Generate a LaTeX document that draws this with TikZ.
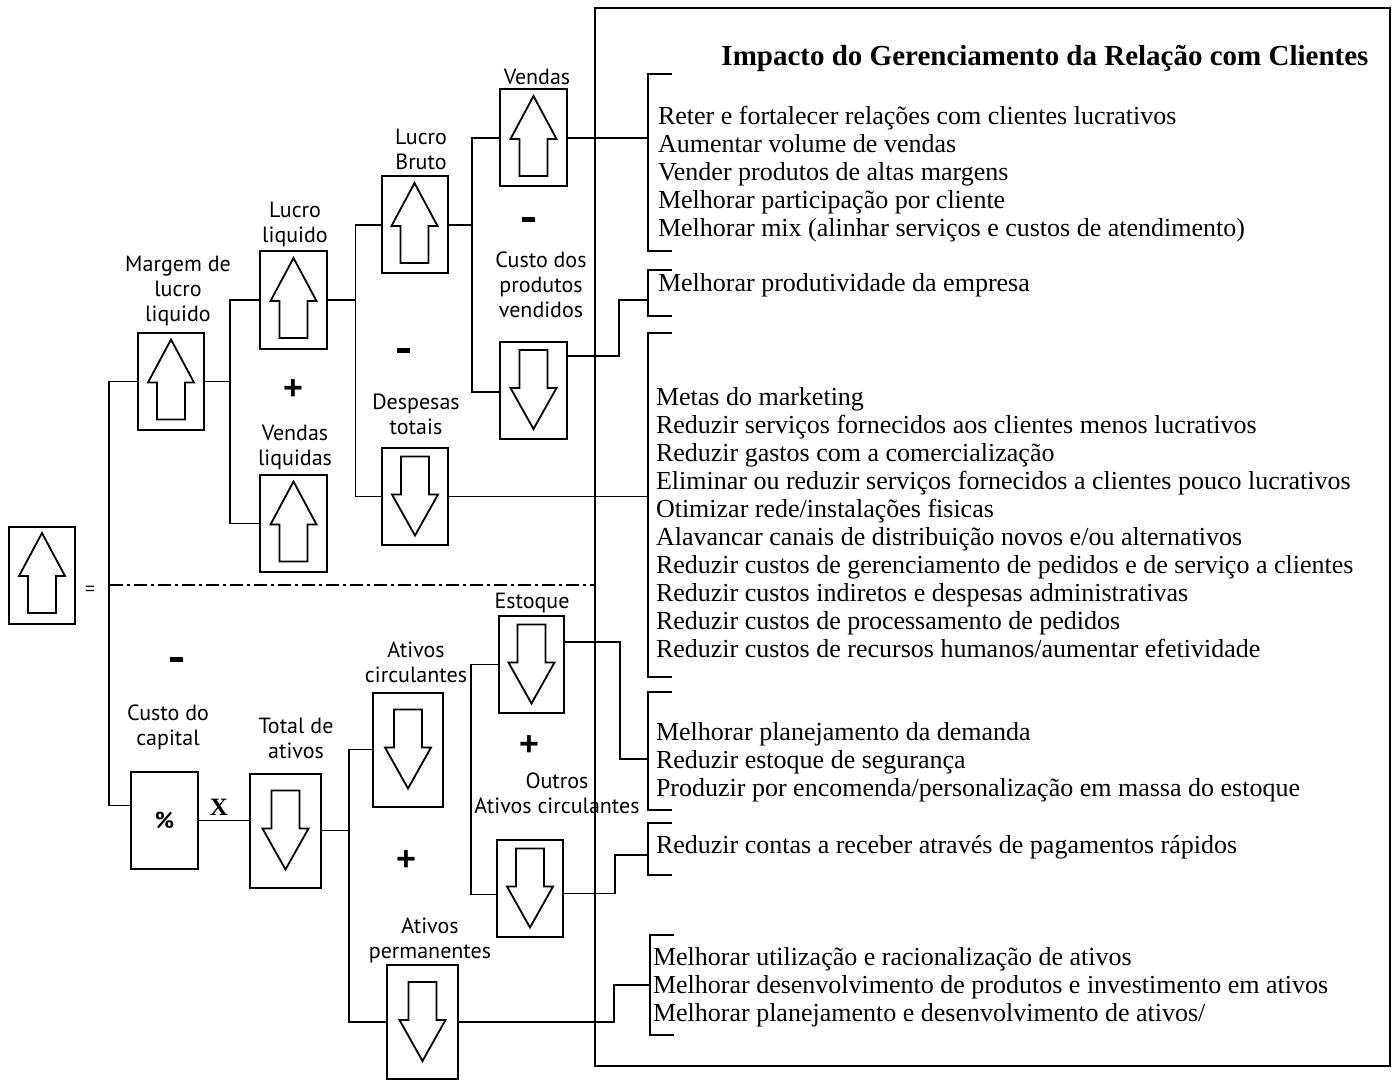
\documentclass[tikz,border=0pt]{standalone}
\usepackage{fontspec}
\setmainfont{Liberation Serif}
\newfontfamily\labelfont{PT Sans}
\newfontfamily\opfont{Liberation Sans}
\usetikzlibrary{calc}

\begin{document}
\begin{tikzpicture}[x=1pt,y=-1pt,
  every node/.style={inner sep=0pt, outer sep=0pt},
  line/.style={line width=1.8pt},
  box/.style={draw, line width=2pt, minimum width=66pt, minimum height=97pt},
  tallbox/.style={box, minimum width=71pt, minimum height=114pt},
  uparrow/.style={path picture={
    \draw[line width=1.8pt, line join=miter, shift={(path picture bounding box.center)}]
      (0,-42) -- (23,1) -- (14,1) -- (14,38) -- (-14,38) -- (-14,1) -- (-23,1) -- cycle;}},
  downarrow/.style={path picture={
    \draw[line width=1.8pt, line join=miter, shift={(path picture bounding box.center)}]
      (0,39) -- (23,-2) -- (14,-2) -- (14,-40) -- (-14,-40) -- (-14,-2) -- (-23,-2) -- cycle;}},
  lab/.style={font=\labelfont\fontsize{22}{25}\selectfont, align=center},
  plus/.style={font=\opfont\bfseries\fontsize{34}{34}\selectfont},
  goal/.style={font=\fontsize{26}{28}\selectfont, align=left, anchor=west},
  bracket/.style={line width=1.8pt},
]
\useasboundingbox (0,0) rectangle (1392,1083);
\fill[white] (0,0) rectangle (1392,1083);

% ---------- right panel ----------
\node[draw, line width=2.2pt, minimum width=795pt, minimum height=1058pt] (panel) at (992.5,537) {};
\node[font=\bfseries\fontsize{29}{32}\selectfont] (title) at (1045,58)
  {Impacto do Gerenciamento da Relação com Clientes};

% ---------- boxes ----------
\node[box, uparrow] (result) at (42,575) {};
\node[box, uparrow] (margem) at (171,381.5) {};
\node[box, uparrow, minimum width=67pt] (lucliq) at (293.5,300) {};
\node[box, uparrow, minimum width=67pt] (vendliq) at (293.5,523.5) {};
\node[box, uparrow] (lbruto) at (414.5,225) {};
\node[box, downarrow] (desp) at (415,496.5) {};
\node[box, uparrow, minimum width=67pt] (vendas) at (533.5,138) {};
\node[box, downarrow, minimum width=67pt] (cpv) at (533.5,390) {};
\node[box, minimum width=67pt] (pct) at (164.5,820.5) {};
\node[tallbox, downarrow] (totat) at (285.5,830.5) {};
\node[tallbox, downarrow, minimum width=70pt] (ativc) at (408,749.5) {};
\node[tallbox, downarrow] (ativp) at (422.5,1022) {};
\node[box, downarrow, minimum width=65pt] (estoque) at (531.5,664.5) {};
\node[box, downarrow] (outros) at (530,888.5) {};

% ---------- box labels ----------
\node[lab] (lmargem) at (178,291) {Margem de\\lucro\\liquido};
\node[lab] (llucliq) at (295,224.5) {Lucro\\liquido};
\node[lab] (lvendliq) at (295,447.5) {Vendas\\liquidas};
\node[lab] (llbruto) at (421,149.5) {Lucro\\Bruto};
\node[lab] (ldesp) at (416,414.5) {Despesas\\totais};
\node[lab] (lvendas) at (537,77) {Vendas};
\node[lab] (lcpv) at (541,284.5) {Custo dos\\produtos\\vendidos};
\node[lab] (lcusto) at (168,727.5) {Custo do\\capital};
\node[lab] (ltotat) at (296,738.5) {Total de\\ativos};
\node[lab] (lativc) at (416,662.5) {Ativos\\circulantes};
\node[lab] (lativp) at (430,940) {Ativos\\permanentes};
\node[lab] (lestoque) at (532,603) {Estoque};
\node[lab] (loutros) at (557,793) {Outros\\Ativos circulantes};

% ---------- operators ----------
\node[font=\labelfont\bfseries\fontsize{23}{23}\selectfont] (pcttxt) at (pct) {\%};
\node[font=\bfseries\fontsize{25}{25}\selectfont] (times) at (219,807) {X};
\node[font=\opfont\fontsize{17}{17}\selectfont] (eq) at (90,590) {=};
\node[plus] (plus1) at (293,390) {+};
\node[plus] (plus2) at (406,861) {+};
\node[plus] (plus3) at (529,746) {+};
\node (minus1) at (403,350) {\rule{13pt}{5pt}};
\node (minus2) at (528,220) {\rule{13pt}{5pt}};
\node (minus3) at (176,659) {\rule{13pt}{5pt}};

% ---------- tree connectors ----------
\draw[line] (margem.west) -- ++(-29,0) |- ($(pct.west)+(0,-15)$);
\draw[line] (margem.east) -- ++(27,0);
\draw[line] (lucliq.west) -- ++(-30,0) |- (vendliq.west);
\draw[line] (lucliq.east) -- ++(29,0);
\draw[line] (lbruto.west) -- ++(-26,0) |- (desp.west);
\draw[line] (lbruto.east) -- ++(25,0);
\draw[line] (vendas.west) -- ++(-28,0) |- ($(cpv.west)+(0,2)$);
\draw[line] (pct.east) -- (pct.east -| totat.west);
\draw[line] (totat.east) -- ++(28,0);
\draw[line] (ativc.west) -- ++(-24,0) |- (ativp.west);
\draw[line] (estoque.west) -- ++(-28,0) |- ($(outros.west)+(0,6)$);

% separator between margin and capital branches
\draw[line width=1.6pt, dash pattern=on 13pt off 4pt on 3pt off 4pt] (110,585) -- (panel.west |- 0,585);

% ---------- brackets of goals ----------
\coordinate (b1) at (648,138);
\coordinate (b2) at (648,300);
\coordinate (b3) at (648,496.5);
\coordinate (b4) at (648,759);
\coordinate (b5) at (648,855);
\coordinate (b6) at (650,985);
\draw[bracket] (672,74) -- (648,74) -- (648,251) -- (672,251);
\draw[bracket] (672,270) -- (648,270) -- (648,316) -- (672,316);
\draw[bracket] (672,333) -- (648,333) -- (648,677) -- (672,677);
\draw[bracket] (672,692) -- (648,692) -- (648,810) -- (672,810);
\draw[bracket] (672,823) -- (648,823) -- (648,875) -- (672,875);
\draw[bracket] (674,935) -- (650,935) -- (650,1035) -- (674,1035);

\draw[line] (vendas.east) -- (b1);
\draw[line] ($(cpv.east)+(0,-34)$) -- ++(52,0) |- (b2);
\draw[line] (desp.east) -- (b3);
\draw[line] ($(estoque.east)+(0,-22.5)$) -- ++(56,0) |- (b4);
\draw[line] ($(outros.east)+(0,5)$) -- ++(52,0) |- (b5);
\draw[line] (ativp.east) -- ++(156,0) |- (b6);

% ---------- goals ----------
\node[goal] (g1) at (658,174) {Reter e fortalecer relações com clientes lucrativos\\
Aumentar volume de vendas\\
Vender produtos de altas margens\\
Melhorar participação por cliente\\
Melhorar mix (alinhar serviços e custos de atendimento)};
\node[goal] (g2) at (658,285) {Melhorar produtividade da empresa};
\node[goal] (g3) at (656,523) {Metas do marketing\\
Reduzir serviços fornecidos aos clientes menos lucrativos\\
Reduzir gastos com a comercialização\\
Eliminar ou reduzir serviços fornecidos a clientes pouco lucrativos\\
Otimizar rede/instalações fisicas\\
Alavancar canais de distribuição novos e/ou alternativos\\
Reduzir custos de gerenciamento de pedidos e de serviço a clientes\\
Reduzir custos indiretos e despesas administrativas\\
Reduzir custos de processamento de pedidos\\
Reduzir custos de recursos humanos/aumentar efetividade};
\node[goal] (g4) at (656,762) {Melhorar planejamento da demanda\\
Reduzir estoque de segurança\\
Produzir por encomenda/personalização em massa do estoque};
\node[goal] (g5) at (656,847) {Reduzir contas a receber através de pagamentos rápidos};
\node[goal] (g6) at (653,987) {Melhorar utilização e racionalização de ativos\\
Melhorar desenvolvimento de produtos e investimento em ativos\\
Melhorar planejamento e desenvolvimento de ativos/};
\end{tikzpicture}
\end{document}
